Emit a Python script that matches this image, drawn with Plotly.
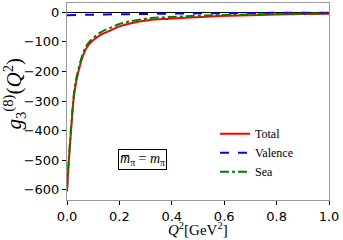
import plotly.graph_objects as go

q2_total = [0.0, 0.005, 0.01, 0.018, 0.025, 0.035, 0.045, 0.057, 0.07, 0.085, 0.1, 0.13, 0.165, 0.2, 0.24, 0.31, 0.39, 0.47, 0.55, 0.62, 0.7, 0.8, 0.9, 1.0]
total = [-605, -530, -465, -370, -296, -235, -195, -158, -128, -108, -95, -76, -62, -48, -38, -27, -22, -18, -14.5, -12, -10, -8, -6.5, -5]
sea = [-595, -520, -455, -361, -287, -226, -187, -150, -120, -100, -87, -67, -53, -40, -31, -21, -16.5, -13, -10.5, -9, -7.5, -6, -5, -4]
q2_val = [0.0, 0.1, 0.2, 0.3, 0.4, 0.5, 0.6, 0.7, 0.8, 0.9, 1.0]
valence = [-10, -8.5, -7, -6, -5, -4, -3.3, -2.7, -2.2, -1.8, -1.5]

x_ticks = [0.0, 0.2, 0.4, 0.6, 0.8, 1.0]
y_ticks = [0, -100, -200, -300, -400, -500, -600]

SERIF = "Liberation Serif"

fig = go.Figure()
fig.add_trace(go.Scatter(x=q2_total, y=total, mode="lines", name="Total",
                         line=dict(color="#ff0000", width=2, shape="spline")))
fig.add_trace(go.Scatter(x=q2_val, y=valence, mode="lines", name="Valence",
                         line=dict(color="#0000ff", width=2, dash="dash", shape="spline")))
fig.add_trace(go.Scatter(x=q2_total, y=sea, mode="lines", name="Sea",
                         line=dict(color="#008000", width=2, dash="dashdot", shape="spline")))

fig.add_annotation(x=0.29, y=-498, xref="x", yref="y",
                   text="<i>m\u0305</i><sub>\u03c0</sub> = <i>m</i><sub>\u03c0</sub>",
                   showarrow=False, bordercolor="black", borderwidth=1, borderpad=1,
                   font=dict(family=SERIF, size=14, color="black"))

# axis titles
fig.add_annotation(x=0.5, y=0, xref="paper", yref="paper", yanchor="top",
                   yshift=-18, showarrow=False,
                   text="<i>Q</i><sup>2</sup>[GeV<sup>2</sup>]",
                   font=dict(family=SERIF, size=15, color="black"))
fig.add_annotation(x=0, y=0.5, xref="paper", yref="paper", xanchor="center",
                   xshift=-53, yshift=8, textangle=-90, showarrow=False,
                   text="<i>g</i><sub>3</sub><sup>(8)</sup>(<i>Q</i><sup>2</sup>)",
                   font=dict(family=SERIF, size=21, color="black"))

fig.update_layout(
    width=343, height=240,
    margin=dict(l=67, r=14, t=3, b=40),
    paper_bgcolor="white", plot_bgcolor="white",
    showlegend=True,
    legend=dict(x=0.565, y=0.41, xanchor="left", yanchor="top",
                bgcolor="rgba(0,0,0,0)", borderwidth=0,
                font=dict(family=SERIF, size=12, color="black"),
                tracegroupgap=0, itemwidth=30),
)
fig.update_xaxes(range=[0, 1], tickvals=x_ticks, ticktext=[f"{v:.1f}" for v in x_ticks],
                 automargin=False,
                 showgrid=False, zeroline=False, showline=True, mirror=True,
                 linecolor="#999999", linewidth=1, ticks="outside", ticklen=4,
                 tickcolor="black",
                 tickfont=dict(family="DejaVu Sans", size=13, color="black"))
fig.update_yaxes(range=[-634, 31], tickvals=y_ticks,
                 automargin=False,
                 showgrid=False, zeroline=True, zerolinecolor="black", zerolinewidth=1,
                 showline=True, mirror=True,
                 linecolor="#999999", linewidth=1, ticks="outside", ticklen=4,
                 tickcolor="black",
                 tickfont=dict(family="DejaVu Sans", size=13, color="black"))

fig.write_html("out.html", config={"displayModeBar": False},
               post_script="document.body.style.margin='0';document.body.style.overflow='hidden';")
